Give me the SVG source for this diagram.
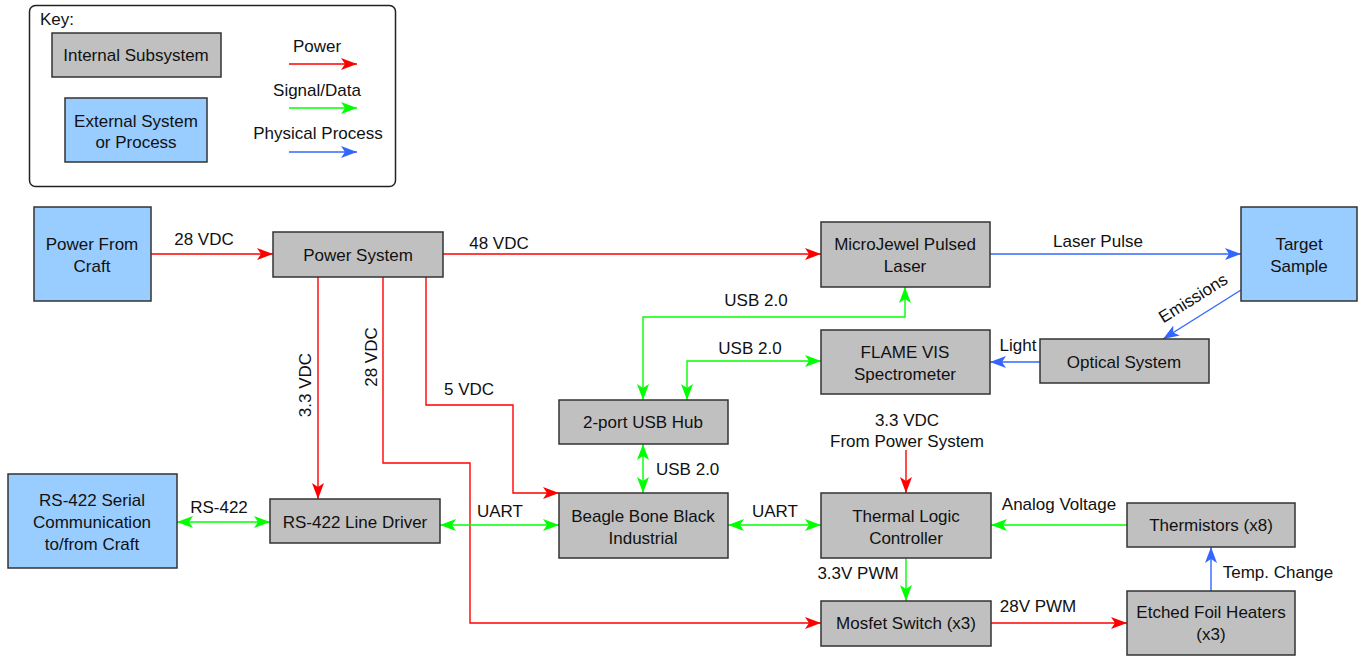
<svg xmlns="http://www.w3.org/2000/svg" width="1359" height="656" viewBox="0 0 1359 656">
<style>
text{font-family:"Liberation Sans",Arial,sans-serif;font-size:17px;fill:#111;}
.c{text-anchor:middle;}
.int{fill:#c0c0c0;stroke:#333;stroke-width:1.5;}
.ext{fill:#99ccff;stroke:#333;stroke-width:1.5;}
.p{fill:none;stroke:#ff0000;stroke-width:1.4;}
.s{fill:none;stroke:#00ff00;stroke-width:1.4;}
.b{fill:none;stroke:#3366ff;stroke-width:1.4;}
</style>
<defs>
<marker id="ar" markerUnits="userSpaceOnUse" markerWidth="18" markerHeight="14" refX="16" refY="6" orient="auto-start-reverse"><path d="M0,0 L16,6 L0,12 L4,6 Z" fill="#ff0000"/></marker>
<marker id="ag" markerUnits="userSpaceOnUse" markerWidth="18" markerHeight="14" refX="16" refY="6" orient="auto-start-reverse"><path d="M0,0 L16,6 L0,12 L4,6 Z" fill="#00ff00"/></marker>
<marker id="ab" markerUnits="userSpaceOnUse" markerWidth="18" markerHeight="14" refX="16" refY="6" orient="auto-start-reverse"><path d="M0,0 L16,6 L0,12 L4,6 Z" fill="#3366ff"/></marker>
</defs>
<rect width="1359" height="656" fill="#fff"/>

<g id="key">
<rect x="29.5" y="5.5" width="366" height="181" rx="6" fill="#fff" stroke="#222" stroke-width="1.5"/>
<text x="40" y="25">Key:</text>
<rect class="int" x="52" y="33" width="169" height="44"/>
<text class="c" x="136" y="61">Internal Subsystem</text>
<rect class="ext" x="65" y="98" width="142" height="64"/>
<text class="c" x="136" y="127">External System</text>
<text class="c" x="136" y="148">or Process</text>
<text class="c" x="317" y="52">Power</text>
<path class="p" d="M289,64 H357" marker-end="url(#ar)"/>
<text class="c" x="317" y="96">Signal/Data</text>
<path class="s" d="M289,108 H357" marker-end="url(#ag)"/>
<text class="c" x="318" y="139">Physical Process</text>
<path class="b" d="M289,152 H357" marker-end="url(#ab)"/>
</g>

<g id="connectors">
<path class="p" d="M151,254 H273" marker-end="url(#ar)"/>
<path class="p" d="M443,254 H821" marker-end="url(#ar)"/>
<path class="p" d="M318,277 V499" marker-end="url(#ar)"/>
<path class="p" d="M383,277 V463 H470 V623 H821" marker-end="url(#ar)"/>
<path class="p" d="M426,277 V405 H513 V493 H559" marker-end="url(#ar)"/>
<path class="s" d="M643,400 V317 H905 V287" marker-start="url(#ag)" marker-end="url(#ag)"/>
<path class="s" d="M687,400 V361 H821" marker-start="url(#ag)" marker-end="url(#ag)"/>
<path class="s" d="M643,444 V493" marker-start="url(#ag)" marker-end="url(#ag)"/>
<path class="s" d="M177,522 H270" marker-start="url(#ag)" marker-end="url(#ag)"/>
<path class="s" d="M440,525 H559" marker-start="url(#ag)" marker-end="url(#ag)"/>
<path class="s" d="M728,525 H821" marker-start="url(#ag)" marker-end="url(#ag)"/>
<path class="p" d="M906,450 V493" marker-end="url(#ar)"/>
<path class="s" d="M1127,525 H991" marker-end="url(#ag)"/>
<path class="s" d="M906,558 V601" marker-end="url(#ag)"/>
<path class="p" d="M991,623 H1127" marker-end="url(#ar)"/>
<path class="b" d="M1211,591 V547" marker-end="url(#ab)"/>
<path class="b" d="M990,254 H1241" marker-end="url(#ab)"/>
<path class="b" d="M1241,290 L1163,339" marker-end="url(#ab)"/>
<path class="b" d="M1040,362 H990" marker-end="url(#ab)"/>

<text class="c" x="204" y="245">28 VDC</text>
<text class="c" x="499" y="249">48 VDC</text>
<text class="c" x="1098" y="247">Laser Pulse</text>
<text class="c" x="756" y="306">USB 2.0</text>
<text class="c" x="750" y="354">USB 2.0</text>
<text class="c" x="1018" y="351">Light</text>
<text class="c" x="1193" y="304" transform="rotate(-32 1193 298)">Emissions</text>
<text class="c" x="311" y="385" transform="rotate(-90 311 385)">3.3 VDC</text>
<text class="c" x="377" y="357" transform="rotate(-90 377 357)">28 VDC</text>
<text class="c" x="469" y="395">5 VDC</text>
<text x="656" y="475">USB 2.0</text>
<text class="c" x="219" y="513">RS-422</text>
<text class="c" x="500" y="517">UART</text>
<text class="c" x="775" y="517">UART</text>
<text class="c" x="907" y="426">3.3 VDC</text>
<text class="c" x="907" y="447">From Power System</text>
<text class="c" x="1059" y="510">Analog Voltage</text>
<text class="c" x="858" y="579">3.3V PWM</text>
<text class="c" x="1038" y="612">28V PWM</text>
<text class="c" x="1278" y="578">Temp. Change</text>
</g>

<g id="power-from-craft"><rect class="ext" x="34" y="207" width="117" height="94"/><text class="c" x="92" y="250">Power From</text><text class="c" x="92" y="272">Craft</text></g>
<g id="power-system"><rect class="int" x="273" y="232" width="170" height="45"/><text class="c" x="358" y="261">Power System</text></g>
<g id="laser"><rect class="int" x="821" y="222" width="169" height="65"/><text class="c" x="905" y="250">MicroJewel Pulsed</text><text class="c" x="905" y="272">Laser</text></g>
<g id="target-sample"><rect class="ext" x="1241" y="207" width="116" height="94"/><text class="c" x="1299" y="250">Target</text><text class="c" x="1299" y="272">Sample</text></g>
<g id="spectrometer"><rect class="int" x="821" y="330" width="169" height="64"/><text class="c" x="905" y="358">FLAME VIS</text><text class="c" x="905" y="380">Spectrometer</text></g>
<g id="optical-system"><rect class="int" x="1040" y="339" width="169" height="44"/><text class="c" x="1124" y="368">Optical System</text></g>
<g id="usb-hub"><rect class="int" x="559" y="400" width="169" height="44"/><text class="c" x="643" y="428">2-port USB Hub</text></g>
<g id="beaglebone"><rect class="int" x="559" y="493" width="169" height="65"/><text class="c" x="643" y="522">Beagle Bone Black</text><text class="c" x="643" y="544">Industrial</text></g>
<g id="rs422-serial"><rect class="ext" x="8" y="474" width="169" height="94"/><text class="c" x="92" y="506">RS-422 Serial</text><text class="c" x="92" y="528">Communication</text><text class="c" x="92" y="550">to/from Craft</text></g>
<g id="line-driver"><rect class="int" x="270" y="499" width="170" height="44"/><text class="c" x="355" y="528">RS-422 Line Driver</text></g>
<g id="thermal-logic"><rect class="int" x="821" y="493" width="170" height="65"/><text class="c" x="906" y="522">Thermal Logic</text><text class="c" x="906" y="544">Controller</text></g>
<g id="thermistors"><rect class="int" x="1127" y="503" width="168" height="44"/><text class="c" x="1211" y="531">Thermistors (x8)</text></g>
<g id="mosfet"><rect class="int" x="821" y="601" width="170" height="45"/><text class="c" x="906" y="629">Mosfet Switch (x3)</text></g>
<g id="heaters"><rect class="int" x="1127" y="591" width="168" height="64"/><text class="c" x="1211" y="618">Etched Foil Heaters</text><text class="c" x="1211" y="640">(x3)</text></g>
</svg>
